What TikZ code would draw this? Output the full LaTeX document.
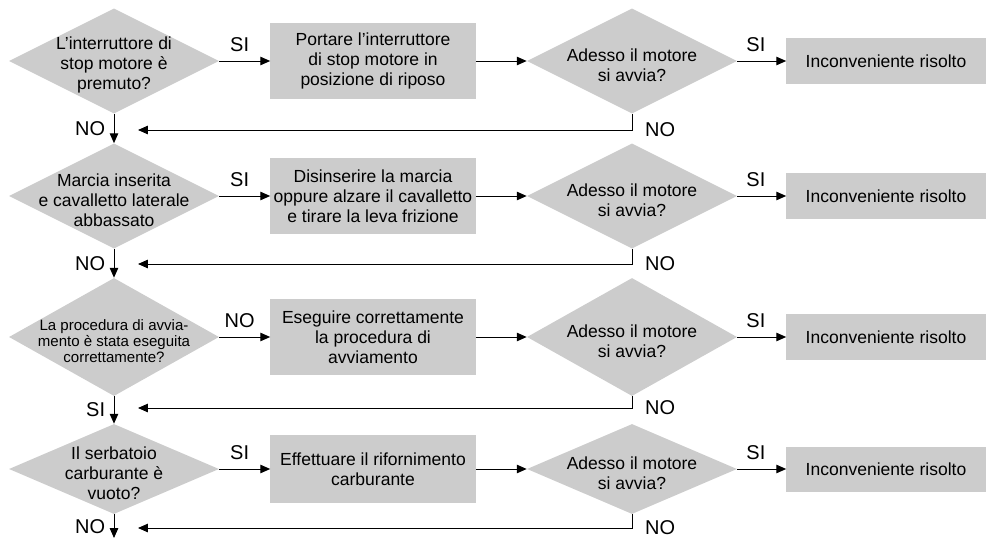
\documentclass[tikz,border=0pt]{standalone}
\usepackage{fontspec}
\setmainfont{Liberation Sans}
\usepackage{tikz}
\usetikzlibrary{arrows.meta, positioning, shapes.geometric}
\usepackage{xcolor}
\definecolor{flowgray}{RGB}{204,204,204}

\begin{document}
\begin{tikzpicture}[
  x=0.025cm, y=-0.025cm,
  decision/.style={diamond, fill=flowgray, inner sep=0pt, minimum width=5.25cm, minimum height=2.625cm},
  dtext/.style={align=center, inner sep=0pt, yshift=-0.1cm, font=\fontsize{12.45}{14.2}\selectfont},
  action/.style={rectangle, fill=flowgray, align=center, inner sep=2pt, minimum width=5.125cm, minimum height=1.875cm, font=\fontsize{12.45}{14.2}\selectfont},
  done/.style={rectangle, fill=flowgray, minimum width=4.975cm, minimum height=1.125cm, font=\fontsize{12.45}{14.2}\selectfont},
  flow/.style={-{Triangle[length=7pt, width=6pt]}, line width=0.7pt},
  lbl/.style={font=\fontsize{14.2}{16}\selectfont, inner sep=2pt}
]
\useasboundingbox (0,0) rectangle (986,539);

% Questions (left column)
\node[decision] (q1) at (114,61) {};
\node[dtext] (qt1) at (q1) {L’interruttore di\\stop motore è\\premuto?};
\node[decision] (q2) at (114,196) {};
\node[dtext] (qt2) at (q2) {Marcia inserita\\e cavalletto laterale\\abbassato};
\node[decision, minimum height=2.95cm] (q3) at (114,337) {};
\node[dtext, font=\fontsize{10.7}{11.2}\selectfont] (qt3) at (q3) {La procedura di avvia-\\mento è stata eseguita\\correttamente?};
\node[decision, minimum height=2.25cm] (q4) at (114,469) {};
\node[dtext] (qt4) at (q4) {Il serbatoio\\carburante è\\vuoto?};

% Actions
\node[action] (p1) at (373,61) {Portare l’interruttore\\di stop motore in\\posizione di riposo};
\node[action] (p2) at (373,196) {Disinserire la marcia\\oppure alzare il cavalletto\\e tirare la leva frizione};
\node[action] (p3) at (373,337) {Eseguire correttamente\\la procedura di\\avviamento};
\node[action, minimum height=1.7cm] (p4) at (373,469) {Effettuare il rifornimento\\carburante};

% Checks and return lines (one per row)
\foreach \r/\y/\h/\ry in {1/61/2.625cm/130, 2/196/2.625cm/264, 3/337/2.95cm/408, 4/469/2.25cm/528}{
  \node[decision, minimum height=\h] (a\r) at (632,\y) {};
  \node[dtext] (at\r) at (a\r) {Adesso il motore\\si avvia?};
  \node[done] (ok\r) at (886,\y) {Inconveniente risolto};
  \draw[flow] (a\r) -- node[lbl, pos=0.38, above=4pt] {SI} (ok\r);
  \coordinate (back\r) at (138,\ry);
  \draw[flow] (a\r.south) |- node[lbl, pos=0.5, right=7pt] {NO} (back\r);
}

% Question -> action -> check
\draw[flow] (q1) -- node[lbl, pos=0.4, above=4pt] {SI} (p1);
\draw[flow] (q2) -- node[lbl, pos=0.4, above=4pt] {SI} (p2);
\draw[flow] (q3) -- node[lbl, pos=0.4, above=4pt] {NO} (p3);
\draw[flow] (q4) -- node[lbl, pos=0.4, above=4pt] {SI} (p4);
\foreach \r in {1,2,3,4}{\draw[flow] (p\r) -- (a\r);}

% Down the left column
\coordinate (exit) at (114,538);
\draw[flow] (q1) -- node[lbl, left=4pt] {NO} (q2);
\draw[flow] (q2) -- node[lbl, left=4pt] {NO} (q3);
\draw[flow] (q3) -- node[lbl, left=4pt] {SI} (q4);
\draw[flow] (q4) -- node[lbl, left=4pt] {NO} (exit);
\end{tikzpicture}
\end{document}
